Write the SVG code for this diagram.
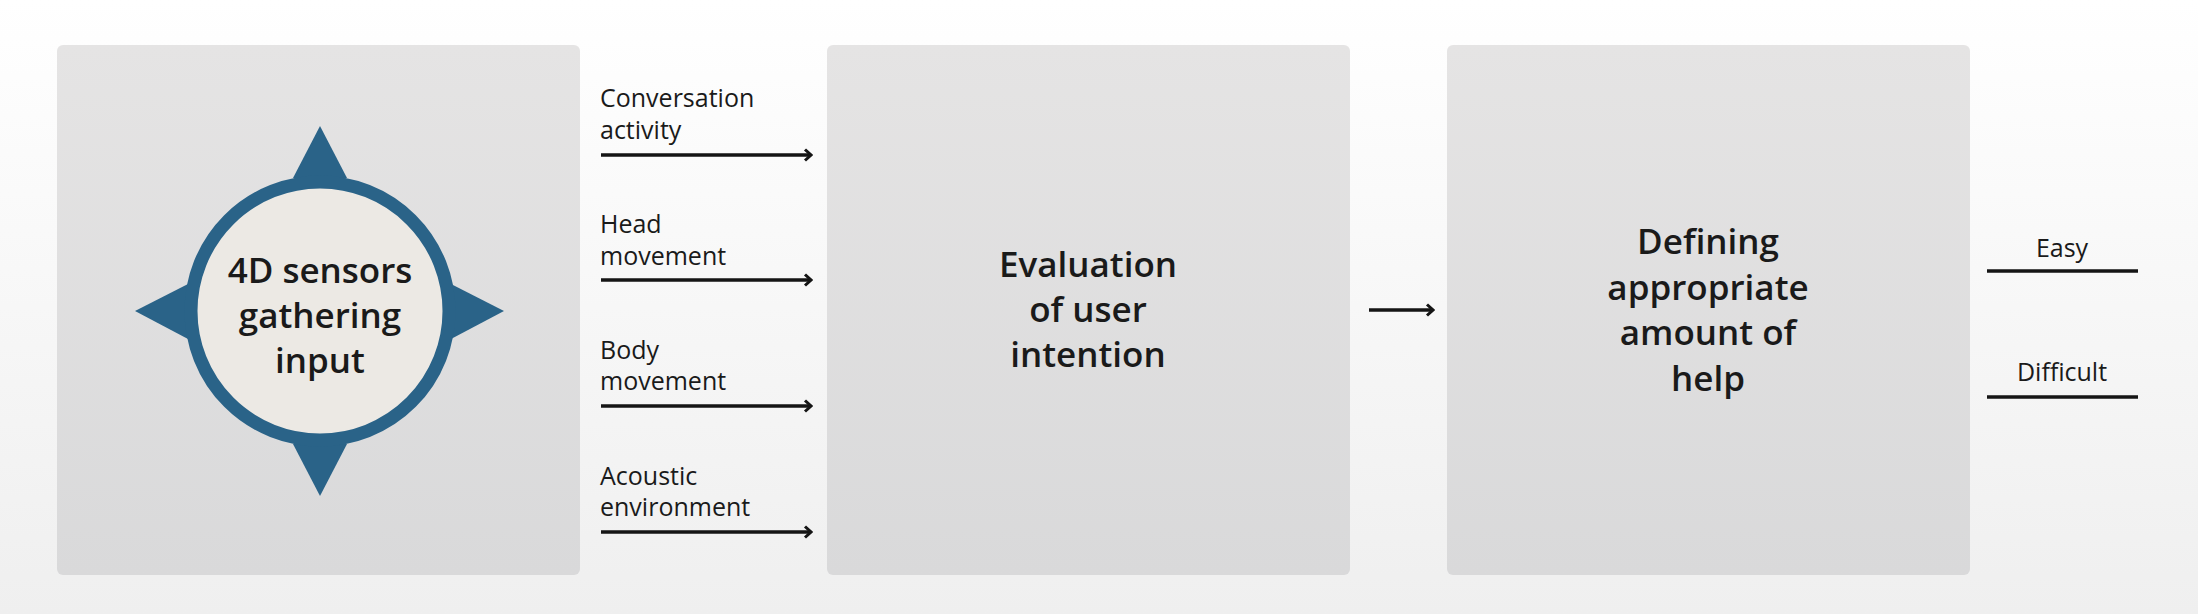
<svg xmlns="http://www.w3.org/2000/svg" width="2198" height="614" viewBox="0 0 2198 614">
<style>
.box{fill:url(#bg2)}
.lbl{font-family:"Open Sans","Liberation Sans",sans-serif;font-size:25px;fill:#1a1a1a}
.ttl{font-family:"Open Sans","Liberation Sans",sans-serif;font-size:35px;font-weight:600;fill:#1a1a1a;text-anchor:middle}
.ln{stroke:#151515;stroke-width:3.5;fill:none}
</style>
<defs>
<linearGradient id="bg" x1="0" y1="0" x2="0" y2="1"><stop offset="0" stop-color="#ffffff"/><stop offset="1" stop-color="#efefef"/></linearGradient>
<linearGradient id="bg2" x1="0" y1="0" x2="0" y2="1"><stop offset="0" stop-color="#e5e4e4"/><stop offset="1" stop-color="#d9d9da"/></linearGradient>
<marker id="ah" viewBox="0 0 14 14" refX="12" refY="7" markerWidth="14" markerHeight="14" markerUnits="userSpaceOnUse" orient="auto"><path d="M6,1.5 L12,7 L6,12.5" fill="none" stroke="#151515" stroke-width="3"/></marker>
</defs>
<rect width="2198" height="614" fill="url(#bg)"/>
<g id="sensors">
<rect class="box" x="57" y="45" width="523" height="530" rx="6"/>
<polygon points="320,126 293,178 347,178" fill="#2a6388"/>
<polygon points="320,496 293,444 347,444" fill="#2a6388"/>
<polygon points="135,311 188,284 188,339" fill="#2a6388"/>
<polygon points="504,311 451,284 451,339" fill="#2a6388"/>
<circle cx="320" cy="311" r="129" fill="#ece9e4" stroke="#2a6388" stroke-width="13"/>
<text class="ttl" x="320" y="283">4D sensors</text>
<text class="ttl" x="320" y="328">gathering</text>
<text class="ttl" x="320" y="373">input</text>
</g>
<g id="evaluation">
<rect class="box" x="827" y="45" width="523" height="530" rx="6"/>
<text class="ttl" x="1088" y="277">Evaluation</text>
<text class="ttl" x="1088" y="322">of user</text>
<text class="ttl" x="1088" y="367">intention</text>
</g>
<g id="defining">
<rect class="box" x="1447" y="45" width="523" height="530" rx="6"/>
<text class="ttl" x="1708" y="254">Defining</text>
<text class="ttl" x="1708" y="300">appropriate</text>
<text class="ttl" x="1708" y="345">amount of</text>
<text class="ttl" x="1708" y="391">help</text>
</g>
<g id="connectors">
<line class="ln" x1="601" y1="155" x2="811" y2="155" marker-end="url(#ah)"/>
<line class="ln" x1="601" y1="280" x2="811" y2="280" marker-end="url(#ah)"/>
<line class="ln" x1="601" y1="406" x2="811" y2="406" marker-end="url(#ah)"/>
<line class="ln" x1="601" y1="532" x2="811" y2="532" marker-end="url(#ah)"/>
<line class="ln" x1="1369" y1="310" x2="1433" y2="310" marker-end="url(#ah)"/>
<line class="ln" x1="1987" y1="271" x2="2138" y2="271"/>
<line class="ln" x1="1987" y1="397" x2="2138" y2="397"/>
</g>
<g id="labels">
<text class="lbl" x="600" y="107">Conversation</text>
<text class="lbl" x="600" y="139">activity</text>
<text class="lbl" x="600" y="233">Head</text>
<text class="lbl" x="600" y="265">movement</text>
<text class="lbl" x="600" y="359">Body</text>
<text class="lbl" x="600" y="390">movement</text>
<text class="lbl" x="600" y="485">Acoustic</text>
<text class="lbl" x="600" y="516">environment</text>
<text class="lbl" x="2062" y="257" text-anchor="middle">Easy</text>
<text class="lbl" x="2062" y="381" text-anchor="middle">Difficult</text>
</g>
</svg>
